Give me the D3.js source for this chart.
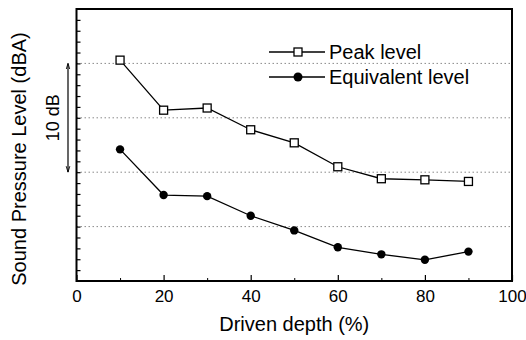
<!DOCTYPE html>
<html lang="en">
<head>
<meta charset="UTF-8">
<title>Sound pressure vs driven depth</title>
<script src="https://d3js.org/d3.v7.min.js"></script>
<style>
  body { margin: 0; background: #fff; }
  svg text { font-family: "Liberation Sans", Arial, sans-serif; fill: #000; }
  .grid line { stroke: #8a8a8a; stroke-width: 1; stroke-dasharray: 1.5 2.5; }
  .series { fill: none; stroke: #000; stroke-width: 1.3; }
</style>
</head>
<body>
<svg id="chart" width="526" height="340"></svg>
<script>
// driven depth (%)
const depth = [10, 20, 30, 40, 50, 60, 70, 80, 90];
// relative sound pressure level (dB)
const peakLevel = [20.3, 15.7, 15.9, 13.9, 12.7, 10.5, 9.4, 9.3, 9.15];
const equivLevel = [12.1, 7.9, 7.8, 6.0, 4.65, 3.1, 2.45, 1.95, 2.7];
const xLabelTicks = [0, 20, 40, 60, 80, 100];
const xMinorTicks = [10, 30, 50, 70, 90];
const gridLevels = [5, 10, 15, 20];

const svg = d3.select("#chart");
const plotL = 76.5, plotR = 512, plotT = 9, plotB = 281;

const x = d3.scaleLinear().domain([0, 100]).range([plotL, plotR]);
const y = d3.scaleLinear().domain([0, 25]).range([plotB, plotT]);

// dotted grid lines
svg.append("g").attr("class", "grid")
  .selectAll("line")
  .data(gridLevels)
  .join("line")
  .attr("x1", plotL).attr("x2", plotR)
  .attr("y1", d => y(d)).attr("y2", d => y(d));

// left ticks, every 1 dB, inside
const yAxis = svg.append("g")
  .attr("transform", `translate(${plotL},0)`)
  .call(d3.axisLeft(y).tickValues(d3.range(1, 25)).tickSize(-4).tickFormat(""));
yAxis.select(".domain").remove();
yAxis.selectAll("line").attr("stroke-width", 1.2);

// bottom ticks
const xMinor = svg.append("g")
  .attr("transform", `translate(0,${plotB})`)
  .call(d3.axisBottom(x).tickValues(xMinorTicks).tickSize(-3).tickFormat(""));
xMinor.select(".domain").remove();

const xMajor = svg.append("g")
  .attr("transform", `translate(0,${plotB})`)
  .call(d3.axisBottom(x).tickValues(xLabelTicks).tickSize(-6).tickPadding(9));
xMajor.select(".domain").remove();
xMajor.selectAll("line").attr("stroke-width", 1.2);
xMajor.selectAll("text").attr("font-size", 17);
xMajor.attr("font-family", null).attr("font-size", null);

// frame
svg.append("rect")
  .attr("x", plotL).attr("y", plotT)
  .attr("width", plotR - plotL).attr("height", plotB - plotT)
  .attr("fill", "none").attr("stroke", "#000").attr("stroke-width", 2);

const line = d3.line().x((d, i) => x(depth[i])).y(d => y(d));

// peak level
svg.append("path").datum(peakLevel).attr("class", "series").attr("d", line);
svg.append("g").selectAll("rect")
  .data(peakLevel)
  .join("rect")
  .attr("x", (d, i) => x(depth[i]) - 4)
  .attr("y", d => y(d) - 4)
  .attr("width", 8).attr("height", 8)
  .attr("fill", "#fff").attr("stroke", "#000").attr("stroke-width", 1.3);

// equivalent level
svg.append("path").datum(equivLevel).attr("class", "series").attr("d", line);
svg.append("g").selectAll("circle")
  .data(equivLevel)
  .join("circle")
  .attr("cx", (d, i) => x(depth[i]))
  .attr("cy", d => y(d))
  .attr("r", 4.2)
  .attr("fill", "#000");

// legend
const legend = svg.append("g").attr("transform", "translate(269,52)");
legend.append("line").attr("x1", 0).attr("x2", 56).attr("y1", 0).attr("y2", 0)
  .attr("stroke", "#000").attr("stroke-width", 1.3);
legend.append("rect").attr("x", 25).attr("y", -4).attr("width", 8).attr("height", 8)
  .attr("fill", "#fff").attr("stroke", "#000").attr("stroke-width", 1.3);
legend.append("text").attr("x", 60).attr("y", 7).attr("font-size", 20).text("Peak level");

legend.append("line").attr("x1", 0).attr("x2", 56).attr("y1", 25).attr("y2", 25)
  .attr("stroke", "#000").attr("stroke-width", 1.3);
legend.append("circle").attr("cx", 29).attr("cy", 25).attr("r", 4.5).attr("fill", "#000");
legend.append("text").attr("x", 60).attr("y", 32).attr("font-size", 20).text("Equivalent level");

// axis titles
svg.append("text")
  .attr("x", (plotL + plotR) / 2).attr("y", 331)
  .attr("text-anchor", "middle").attr("font-size", 20)
  .text("Driven depth (%)");

svg.append("text")
  .attr("transform", "translate(26,159) rotate(-90)")
  .attr("text-anchor", "middle").attr("font-size", 20)
  .text("Sound Pressure Level (dBA)");

// 10 dB scale bar
svg.append("defs").append("marker")
  .attr("id", "arr").attr("viewBox", "0 0 10 10")
  .attr("refX", 10).attr("refY", 5)
  .attr("markerWidth", 5).attr("markerHeight", 7)
  .attr("orient", "auto-start-reverse")
  .append("path").attr("d", "M0,2 L10,5 L0,8").attr("fill", "none").attr("stroke", "#000").attr("stroke-width", 1.5);

svg.append("line")
  .attr("x1", 68).attr("x2", 68)
  .attr("y1", y(20)).attr("y2", y(10))
  .attr("stroke", "#000").attr("stroke-width", 1.2)
  .attr("marker-start", "url(#arr)").attr("marker-end", "url(#arr)");

svg.append("text")
  .attr("transform", `translate(59,${y(15)}) rotate(-90)`)
  .attr("text-anchor", "middle").attr("font-size", 18)
  .text("10 dB");
</script>
</body>
</html>
